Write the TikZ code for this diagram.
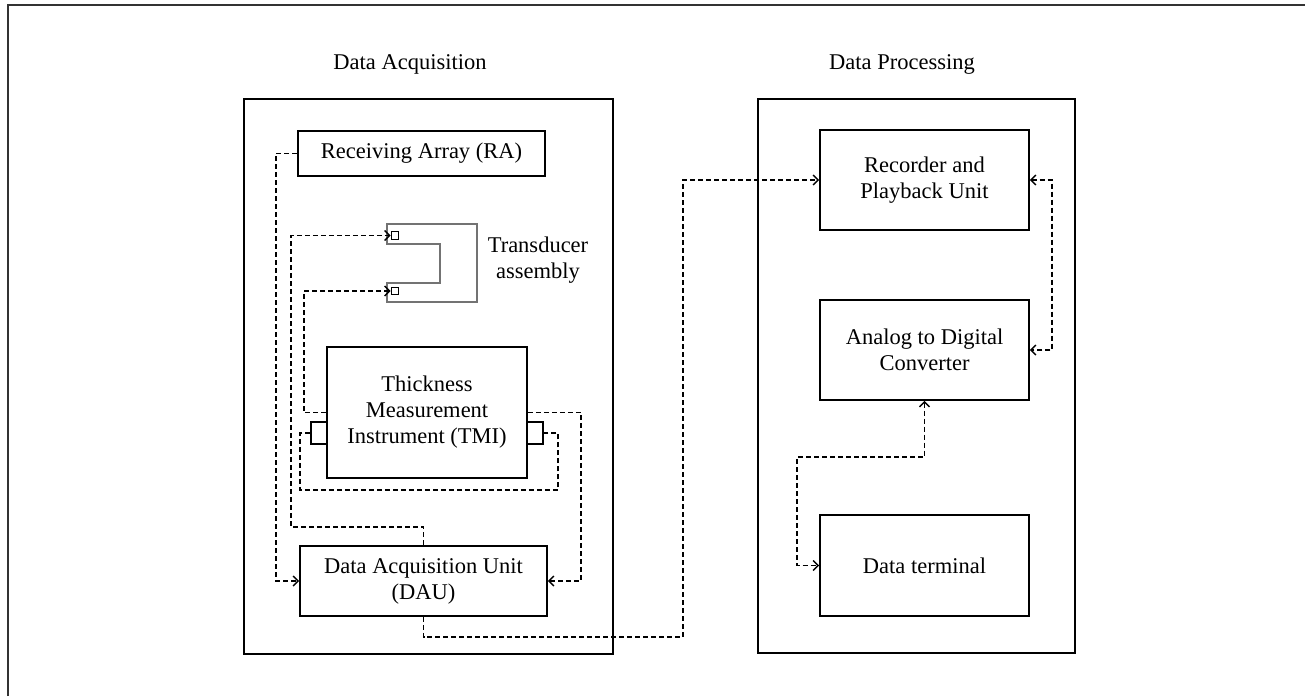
\documentclass[tikz,border=0pt]{standalone}
\usepackage{fontspec}
\setmainfont{Liberation Serif}
\usetikzlibrary{arrows.meta}
\begin{document}
\begin{tikzpicture}[x=1pt,y=-1pt,
  txt/.style={font=\fontsize{22.5}{26}\selectfont, align=center, inner sep=0pt},
  panel/.style={draw, line width=1.6pt, inner sep=0pt},
  unit/.style={draw, line width=1.7pt, txt},
  port/.style={draw, line width=1.5pt, inner sep=0pt},
  tport/.style={draw, line width=1.4pt, inner sep=0pt, minimum width=7.5pt, minimum height=7.5pt},
  dconn/.style={line width=1.5pt, dash pattern=on 5pt off 3pt},
  tip/.style={-{Straight Barb[length=5pt,width=10pt,line width=1.4pt]}},
  bitip/.style={{Straight Barb[length=5pt,width=10pt,line width=1.4pt]}-{Straight Barb[length=5pt,width=10pt,line width=1.4pt]}}
]
\useasboundingbox (0,0) rectangle (1305,696);
% outer frame (top and left edges)
\draw[line width=1.5pt, black!80] (8,696) -- (8,5) -- (1305,5);

% section titles
\node[txt] (tacq) at (410,64) {Data Acquisition};
\node[txt] (tproc) at (902,64) {Data Processing};

% section panels
\node[panel, minimum width=369pt, minimum height=555pt] (acq) at (428.5,376.5) {};
\node[panel, minimum width=317pt, minimum height=554pt] (proc) at (916.5,376) {};

% acquisition units
\node[unit, minimum width=247pt, minimum height=45pt] (ra) at (421.5,153.5) {Receiving Array (RA)};
\node[unit, minimum width=200pt, minimum height=131pt] (tmi) at (427,412.5) {Thickness\\Measurement\\Instrument (TMI)};
\node[port, minimum width=16pt, minimum height=22pt] (tmil) at (319,433) {};
\node[port, minimum width=16pt, minimum height=22pt] (tmir) at (535,433) {};
\node[unit, minimum width=247pt, minimum height=70pt] (dau) at (423.5,581) {Data Acquisition Unit\\(DAU)};

% transducer assembly
\draw[line width=1.6pt, black!55] (387,224) -- (477,224) -- (477,302) -- (387,302)
  -- (387,283) -- (440,283) -- (440,244) -- (387,244) -- cycle;
\node[tport] (ts1) at (395,235.5) {};
\node[tport] (ts2) at (395,291) {};
\node[txt] (tlab) at (538,260) {Transducer\\assembly};

% processing units
\node[unit, minimum width=209pt, minimum height=100pt] (rec) at (924.5,180) {Recorder and\\Playback Unit};
\node[unit, minimum width=209pt, minimum height=100pt] (adc) at (924.5,350) {Analog to Digital\\Converter};
\node[unit, minimum width=209pt, minimum height=101pt] (dt) at (924.5,565.5) {Data terminal};

% connectors
\draw[dconn, tip] (ra.west) -- (276,153.5) |- (dau.west);
\draw[dconn, tip] (dau.north) |- (291,527) |- (ts1.west);
\draw[dconn, tip] (tmi.west) -- (304,412.5) |- (ts2.west);
\draw[dconn] (tmil.west) -- (300,433) |- (558,490) |- (tmir.east);
\draw[dconn, tip] (tmi.east) -- (581,412.5) |- (dau.east);
\draw[dconn, tip] (dau.south) |- (683,637) |- (rec.west);
\draw[dconn, bitip] (rec.east) -- (1052,180) |- (adc.east);
\draw[dconn, bitip] (adc.south) |- (797,457) |- (dt.west);
\end{tikzpicture}
\end{document}
